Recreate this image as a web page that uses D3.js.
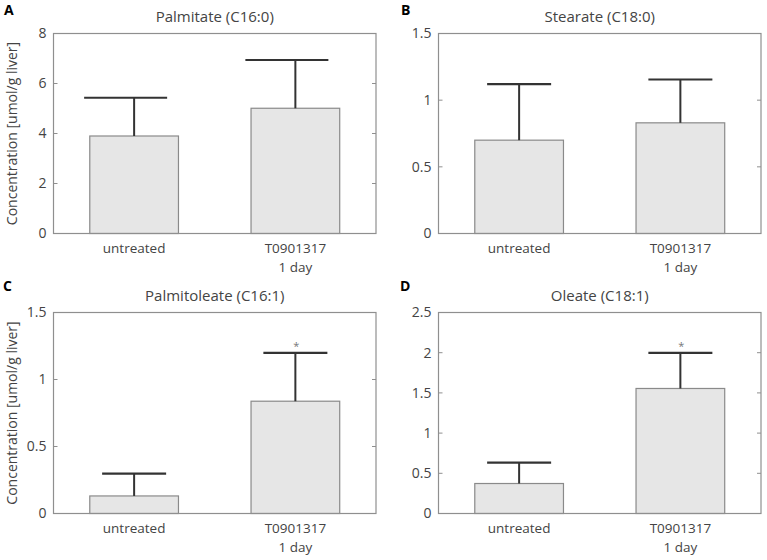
<!DOCTYPE html>
<html><head><meta charset="utf-8">
<script src="https://cdn.jsdelivr.net/npm/d3@7/dist/d3.min.js"></script>
<style>body{margin:0;background:#fff;} text{font-family:"Open Sans",sans-serif;}</style>
</head><body>
<svg id="c" width="767" height="560"></svg>
<script>
const categories = ["untreated", "T0901317\n1 day"];
const panelLetters = ["A", "B", "C", "D"];
const panelTitles = ["Palmitate (C16:0)", "Stearate (C18:0)", "Palmitoleate (C16:1)", "Oleate (C18:1)"];
const meansA = [3.90, 5.01];
const sdA = [1.53, 1.93];
const meansB = [0.70, 0.83];
const sdB = [0.42, 0.325];
const meansC = [0.131, 0.838];
const sdC = [0.167, 0.361];
const meansD = [0.373, 1.555];
const sdD = [0.261, 0.443];
const starsA = [false, false];
const starsB = [false, false];
const starsC = [false, true];
const starsD = [false, true];
const yMax = [8, 1.5, 1.5, 2.5];
const yTicksA = [0, 2, 4, 6, 8];
const yTicksB = [0, 0.5, 1, 1.5];
const yTicksC = [0, 0.5, 1, 1.5];
const yTicksD = [0, 0.5, 1, 1.5, 2, 2.5];
const yLabel = "Concentration [umol/g liver]";

const panels = [
  {m: meansA, sd: sdA, st: starsA, ticks: yTicksA, x0: 53.5, y0: 33.5, ylab: true, cap: [-50, 33]},
  {m: meansB, sd: sdB, st: starsB, ticks: yTicksB, x0: 438.5, y0: 33.5, ylab: false, cap: [-32, 32]},
  {m: meansC, sd: sdC, st: starsC, ticks: yTicksC, x0: 53.5, y0: 312.5, ylab: true, cap: [-32, 32]},
  {m: meansD, sd: sdD, st: starsD, ticks: yTicksD, x0: 438.5, y0: 312.5, ylab: false, cap: [-32, 32]}
];
const W = 322.5, H = [200, 200, 201, 201];
const letterPos = [[4, 15], [401, 15], [3, 291], [400, 291]];

const svg = d3.select("#c");
const axisCol = "#8f8f8f", textCol = "#444";

panels.forEach((p, i) => {
  const h = H[i];
  const g = svg.append("g").attr("transform", `translate(${p.x0},${p.y0})`);
  const x = d3.scaleLinear().domain([0.5, 2.5]).range([0, W]);
  const y = d3.scaleLinear().domain([0, yMax[i]]).range([h, 0]);
  const bw = x(1.55) - x(1);

  // bars
  g.selectAll("rect.bar").data(p.m).join("rect")
    .attr("x", (d, j) => x(j + 1) - bw / 2)
    .attr("y", d => y(d))
    .attr("width", bw)
    .attr("height", d => h - y(d))
    .attr("fill", "#e6e6e6").attr("stroke", "#8a8a8a").attr("stroke-width", 1.2);

  // error bars
  p.m.forEach((d, j) => {
    const cx = x(j + 1), top = y(d + p.sd[j]);
    g.append("line").attr("x1", cx).attr("x2", cx).attr("y1", y(d)).attr("y2", top)
      .attr("stroke", "#333").attr("stroke-width", 2);
    g.append("line").attr("x1", cx + p.cap[0]).attr("x2", cx + p.cap[1]).attr("y1", top).attr("y2", top)
      .attr("stroke", "#333").attr("stroke-width", 2.2);
    if (p.st[j]) {
      g.append("text").attr("x", cx + 1).attr("y", top - 3).attr("text-anchor", "middle")
        .attr("font-size", 11).attr("fill", "#777").text("*");
    }
  });

  // box
  g.append("rect").attr("x", 0).attr("y", 0).attr("width", W).attr("height", h)
    .attr("fill", "none").attr("stroke", axisCol).attr("stroke-width", 1.2);

  // y ticks (inward on both sides)
  p.ticks.forEach(t => {
    g.append("line").attr("x1", 0).attr("x2", 4).attr("y1", y(t)).attr("y2", y(t)).attr("stroke", axisCol);
    g.append("line").attr("x1", W - 4).attr("x2", W).attr("y1", y(t)).attr("y2", y(t)).attr("stroke", axisCol);
    g.append("text").attr("x", -7).attr("y", y(t)).attr("dy", "0.35em").attr("text-anchor", "end")
      .attr("font-size", 14).attr("fill", textCol).text(String(t));
  });

  // x labels
  categories.forEach((c, j) => {
    const lines = c.split("\n");
    lines.forEach((ln, k) => {
      g.append("text").attr("x", x(j + 1)).attr("y", h + 19 + k * 19).attr("text-anchor", "middle")
        .attr("font-size", 13.5).attr("fill", textCol).text(ln);
    });
  });

  // title
  g.append("text").attr("x", W / 2).attr("y", -12).attr("text-anchor", "middle")
    .attr("font-size", 15).attr("fill", textCol).text(panelTitles[i]);

  // y label
  if (p.ylab) {
    g.append("text").attr("transform", `translate(${-37},${h / 2}) rotate(-90)`)
      .attr("text-anchor", "middle").attr("font-size", 14).attr("fill", textCol).text(yLabel);
  }

  svg.append("text").attr("x", letterPos[i][0]).attr("y", letterPos[i][1])
    .attr("font-family", "Liberation Sans, Arial, sans-serif").attr("font-weight", "bold")
    .attr("font-size", 14).attr("fill", "#000").text(panelLetters[i]);
});
</script>
</body></html>
